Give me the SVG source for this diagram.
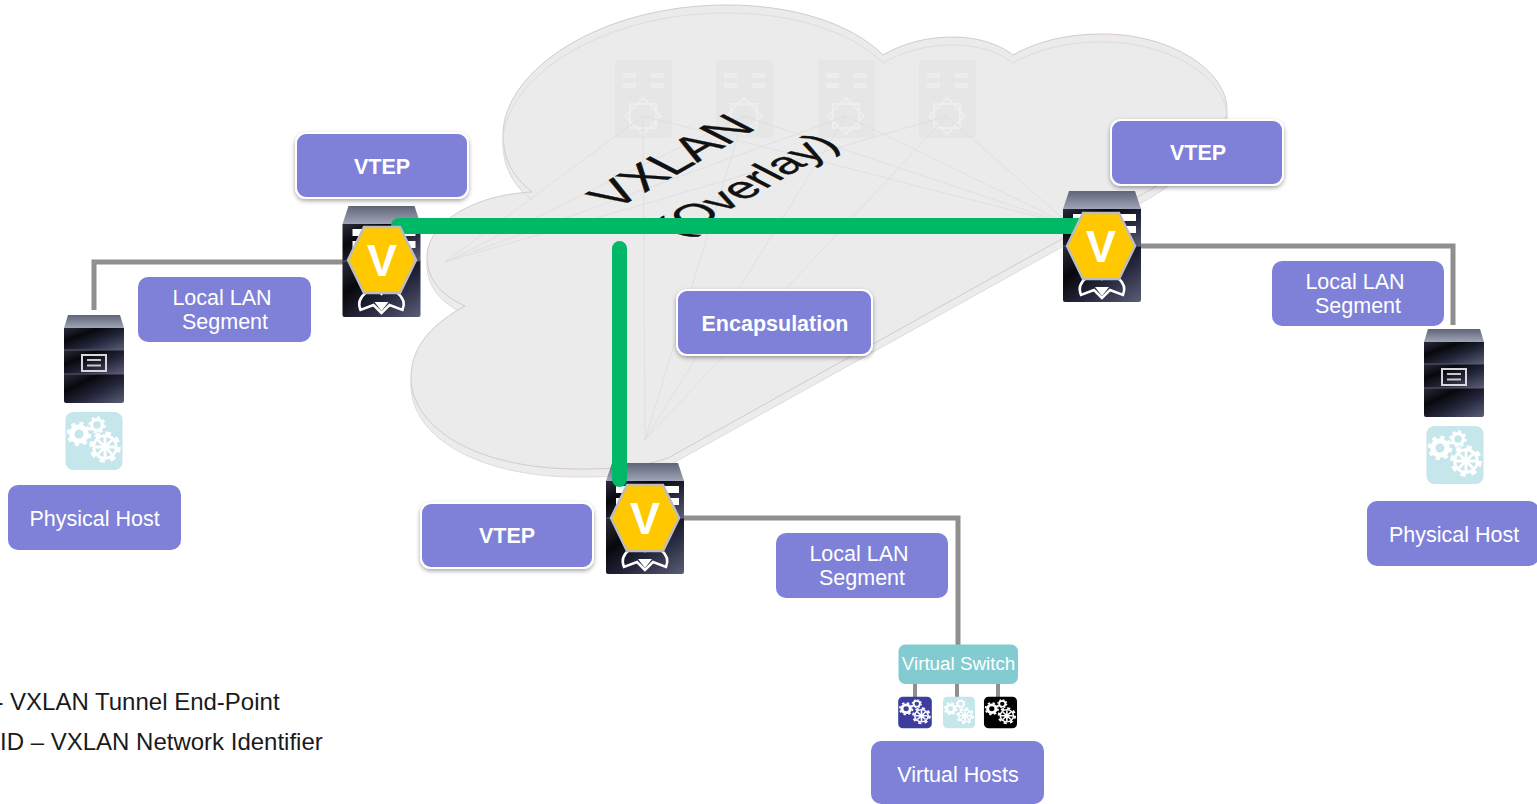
<svg xmlns="http://www.w3.org/2000/svg" width="1537" height="804" viewBox="0 0 1537 804">
<style>
text{font-family:"Liberation Sans",Arial,sans-serif}
.lab{fill:#7e81d7}
.lt{fill:#fff;font-size:21.5px;text-anchor:middle}
.lb{fill:#fff;font-size:21.5px;font-weight:bold;text-anchor:middle}
.wire{fill:none;stroke:#8f8f8f;stroke-width:5}
.thin{fill:none;stroke:#8f8f8f;stroke-width:4}
.green{fill:none;stroke:#00b865;stroke-width:16;stroke-linecap:round}
.ghost{fill:#e6e6e6}
.gw{fill:#ededed}
.gs{fill:none;stroke:#eeeeee;stroke-width:2}
.fl{stroke:#dbdbdb;stroke-width:.7;fill:none}
</style>
<defs>
<linearGradient id="top" x1="0" y1="0" x2="0" y2="1"><stop offset="0" stop-color="#5f6479"/><stop offset="1" stop-color="#a0a4b5"/></linearGradient>
<linearGradient id="band" x1="0" y1="0" x2="1" y2="1"><stop offset="0" stop-color="#2a2c3c"/><stop offset=".3" stop-color="#07080c"/><stop offset=".6" stop-color="#23253a"/><stop offset="1" stop-color="#5b5e78"/></linearGradient>
<filter id="sh" x="-10%" y="-15%" width="120%" height="135%"><feDropShadow dx="0" dy="2" stdDeviation="2" flood-color="#000" flood-opacity=".35"/></filter>
<filter id="glow" x="-5%" y="-300%" width="110%" height="700%"><feGaussianBlur stdDeviation="5"/></filter>
<path id="cloudshape" d="M532 192C510 175 503 155 503 133C505 70 600 5 727 5C790 5 850 22 883 55C905 42 930 37 953 37C975 37 998 43 1013 55C1040 40 1070 34 1103 34C1170 34 1227 70 1227 110C1227 135 1190 165 1150 190L668 458C640 468 610 469 578 469C480 469 411 430 411 377C411 345 435 322 465 306C440 295 427 278 427 257C427 225 470 195 532 192Z"/>
<g id="gear"><circle r="8.200" fill="#fff"/><circle r="9" fill="none" stroke="#fff" stroke-width="2.400" stroke-dasharray="3.500 3.570"/></g>
<g id="gears">
<rect x="-28.500" y="-29" width="57" height="58" rx="8"/>
<use href="#gear" transform="translate(-15,-7) scale(1.200)"/><circle cx="-15" cy="-7" r="4.500"/>
<use href="#gear" transform="translate(3,-16) scale(.85)"/><circle cx="3" cy="-16" r="3.800"/>
<use href="#gear" transform="translate(11,6) scale(1.550)"/><circle cx="11" cy="6" r="10"/>
<path d="M11-4V16M1 6H21M4 -1L18 13M18 -1L4 13" stroke="#fff" stroke-width="2.800"/><circle cx="11" cy="6" r="3.500" fill="#fff"/>
</g>
<g id="vtepbox">
<path d="M-39-38H39V-1H-39Z" fill="url(#band)"/>
<path d="M-39-1H39V53Q39 55 37 55H-37Q-39 55-39 53Z" fill="url(#band)"/>
<path d="M-33-56H33L39-38H-39Z" fill="url(#top)"/>
<path d="M-39-1H39" stroke="#5a5d72" stroke-width="1"/>
<path d="M-29-33H-8V-26H-29ZM12-33H34V-26H12ZM-29-21H-8V-14H-29ZM12-21H34V-14H12Z" fill="#fff"/>
<path d="M0 51l-8-8-13 5c-3-7 0-13 5-17l-5-9 9-3 12 13 12-13 9 3-5 9c5 4 8 10 5 17l-13-5Z" fill="none" stroke="#fff" stroke-width="2.500"/>
<path d="M-7 40l7 9 7-9" fill="#fff"/>
</g>
<g id="hex"><path d="M-18-33H18L34 0 18 33H-18L-34 0Z" fill="#ffc800" stroke="#bdbdbd" stroke-width="2.500"/><text y="16" text-anchor="middle" font-size="45" font-weight="bold" fill="#fff">V</text></g>
<g id="host">
<path d="M-30-32H30V-10H-30Z" fill="url(#band)"/>
<path d="M-30-10H30V14H-30Z" fill="url(#band)"/>
<path d="M-30 14H30V41Q30 43 28 43H-28Q-30 43-30 41Z" fill="url(#band)"/>
<path d="M-26-45H26L30-32H-30Z" fill="url(#top)"/>
<path d="M-30-10H30M-30 14H30" stroke="#5a5d72"/>
<rect x="-12" y="-5" width="24" height="16" fill="none" stroke="#d8d8d8" stroke-width="2"/>
<path d="M-7 0H7M-7 5.500H7" stroke="#c8c8c8" stroke-width="2"/>
</g>
</defs>

<g id="cloud">
<use href="#cloudshape" transform="translate(0,8)" fill="#ececec" stroke="#dcdcdc"/>
<use href="#cloudshape" fill="#ebebeb" stroke="#d8c8ce"/>
<path d="M532 200C510 183 503 163 503 141C505 78 600 13 727 13C790 13 850 30 883 63C905 50 930 45 953 45C975 45 998 51 1013 63C1040 48 1070 42 1103 42C1170 42 1227 78 1227 118" fill="none" stroke="#dddddd"/>
<g id="ghosts">
<rect x="615" y="60" width="57" height="78" rx="3" class="ghost"/><rect x="716" y="60" width="57" height="78" rx="3" class="ghost"/><rect x="818" y="60" width="57" height="78" rx="3" class="ghost"/><rect x="919" y="60" width="57" height="78" rx="3" class="ghost"/>
<g class="gw"><rect x="623" y="73" width="13" height="5"/><rect x="651" y="73" width="13" height="5"/><rect x="623" y="83" width="13" height="5"/><rect x="651" y="83" width="13" height="5"/>
<rect x="724" y="73" width="13" height="5"/><rect x="752" y="73" width="13" height="5"/><rect x="724" y="83" width="13" height="5"/><rect x="752" y="83" width="13" height="5"/>
<rect x="826" y="73" width="13" height="5"/><rect x="854" y="73" width="13" height="5"/><rect x="826" y="83" width="13" height="5"/><rect x="854" y="83" width="13" height="5"/>
<rect x="927" y="73" width="13" height="5"/><rect x="955" y="73" width="13" height="5"/><rect x="927" y="83" width="13" height="5"/><rect x="955" y="83" width="13" height="5"/></g>
<g class="gs">
<path d="M643 98L661 116 643 134 625 116ZM630 104H656V128H630Z"/>
<path d="M744 98L762 116 744 134 726 116ZM731 104H757V128H731Z"/>
<path d="M846 98L864 116 846 134 828 116ZM833 104H859V128H833Z"/>
<path d="M947 98L965 116 947 134 929 116ZM934 104H960V128H934Z"/>
</g>
</g>
<path class="fl" d="M643 116L445 262M744 116L445 262M846 116L445 262M947 116L445 262M643 116L1070 225M744 116L1070 225M846 116L1070 225M947 116L1070 225M643 116L645 440M744 116L645 440M846 116L645 440M947 116L645 440"/>
<text transform="matrix(.87,-.5,.89,.46,615,210)" font-size="50" fill="#111" stroke="#111" stroke-width=".5">VXLAN</text>
<text transform="matrix(.87,-.5,.89,.46,680,238)" font-size="45" fill="#111" stroke="#111" stroke-width=".5">(Overlay)</text>
<path d="M420 226H1075" stroke="#fff" stroke-width="26" opacity=".55" filter="url(#glow)"/>
</g>

<g id="connectors">
<path class="wire" d="M94 310V262H380"/>
<path class="wire" d="M1100 246H1453V325"/>
<path class="wire" d="M645 518H958V646"/>
<path class="thin" d="M915 684V698M957 684V698M998 684V698"/>
</g>

<g id="vtep-left"><use href="#vtepbox" transform="translate(381.500,262)"/></g>
<g id="vtep-right"><use href="#vtepbox" transform="translate(1102,247)"/></g>
<g id="vtep-bottom"><use href="#vtepbox" transform="translate(645,519)"/></g>

<g id="overlay-links">
<path class="green" d="M399 226H1085"/>
<path class="green" d="M619.500 248.500V479.500" style="stroke-width:15"/>
</g>
<g id="vtep-hexes">
<use href="#hex" transform="translate(382,260)"/>
<use href="#hex" transform="translate(1101,246)"/>
<use href="#hex" transform="translate(645,518)"/>
</g>

<g id="label-vtep-left"><rect x="296" y="133" width="172" height="65" rx="10" class="lab" stroke="#fff" stroke-width="2" filter="url(#sh)"/><text x="382" y="174" class="lb">VTEP</text></g>
<g id="label-vtep-right"><rect x="1111" y="120" width="172" height="65" rx="10" class="lab" stroke="#fff" stroke-width="2" filter="url(#sh)"/><text x="1198" y="160" class="lb">VTEP</text></g>
<g id="label-vtep-bottom"><rect x="421" y="503" width="172" height="65" rx="10" class="lab" stroke="#fff" stroke-width="2" filter="url(#sh)"/><text x="507" y="543" class="lb">VTEP</text></g>
<g id="label-encap"><rect x="677" y="290" width="195" height="65" rx="10" class="lab" stroke="#fff" stroke-width="2" filter="url(#sh)"/><text x="775" y="331" class="lb">Encapsulation</text></g>

<g id="lan-left"><rect x="138" y="277" width="173" height="65" rx="10" class="lab"/><text x="222" y="305" class="lt">Local LAN</text><text x="225" y="329" class="lt">Segment</text></g>
<g id="lan-right"><rect x="1272" y="261" width="172" height="65" rx="10" class="lab"/><text x="1355" y="289" class="lt">Local LAN</text><text x="1358" y="313" class="lt">Segment</text></g>
<g id="lan-bottom"><rect x="776" y="533" width="172" height="65" rx="10" class="lab"/><text x="859" y="561" class="lt">Local LAN</text><text x="862" y="585" class="lt">Segment</text></g>

<g id="host-left"><use href="#host" transform="translate(94,360)"/><use href="#gears" transform="translate(94,441)" fill="#c5e6ea"/></g>
<g id="host-right"><use href="#host" transform="translate(1454,374)"/><use href="#gears" transform="translate(1455,455)" fill="#c5e6ea"/></g>
<g id="physical-left"><rect x="8" y="485" width="173" height="65" rx="10" class="lab"/><text x="94.500" y="526" class="lt">Physical Host</text></g>
<g id="physical-right"><rect x="1367" y="501" width="172" height="65" rx="10" class="lab"/><text x="1454" y="542" class="lt">Physical Host</text></g>

<g id="virtual-switch"><rect x="898.500" y="644.500" width="119.500" height="39.500" rx="7" fill="#82cbd0"/><text x="958.500" y="670" font-size="18.800" fill="#fff" text-anchor="middle">Virtual Switch</text></g>
<g id="vm1"><use href="#gears" transform="translate(915,712.500) scale(.59,.54)" fill="#3d3da0"/></g>
<g id="vm2"><use href="#gears" transform="translate(959,712.500) scale(.56,.54)" fill="#c5e6ea"/></g>
<g id="vm3"><use href="#gears" transform="translate(1000.500,712.500) scale(.58,.54)" fill="#000"/></g>
<g id="virtual-hosts"><rect x="871" y="741" width="173" height="63" rx="10" class="lab"/><text x="958" y="782" class="lt">Virtual Hosts</text></g>

<g id="legend" font-size="24" fill="#1a1a1a">
<text x="-4.600" y="710">- VXLAN Tunnel End-Point</text>
<text x="0" y="750">ID – VXLAN Network Identifier</text>
</g>
</svg>
